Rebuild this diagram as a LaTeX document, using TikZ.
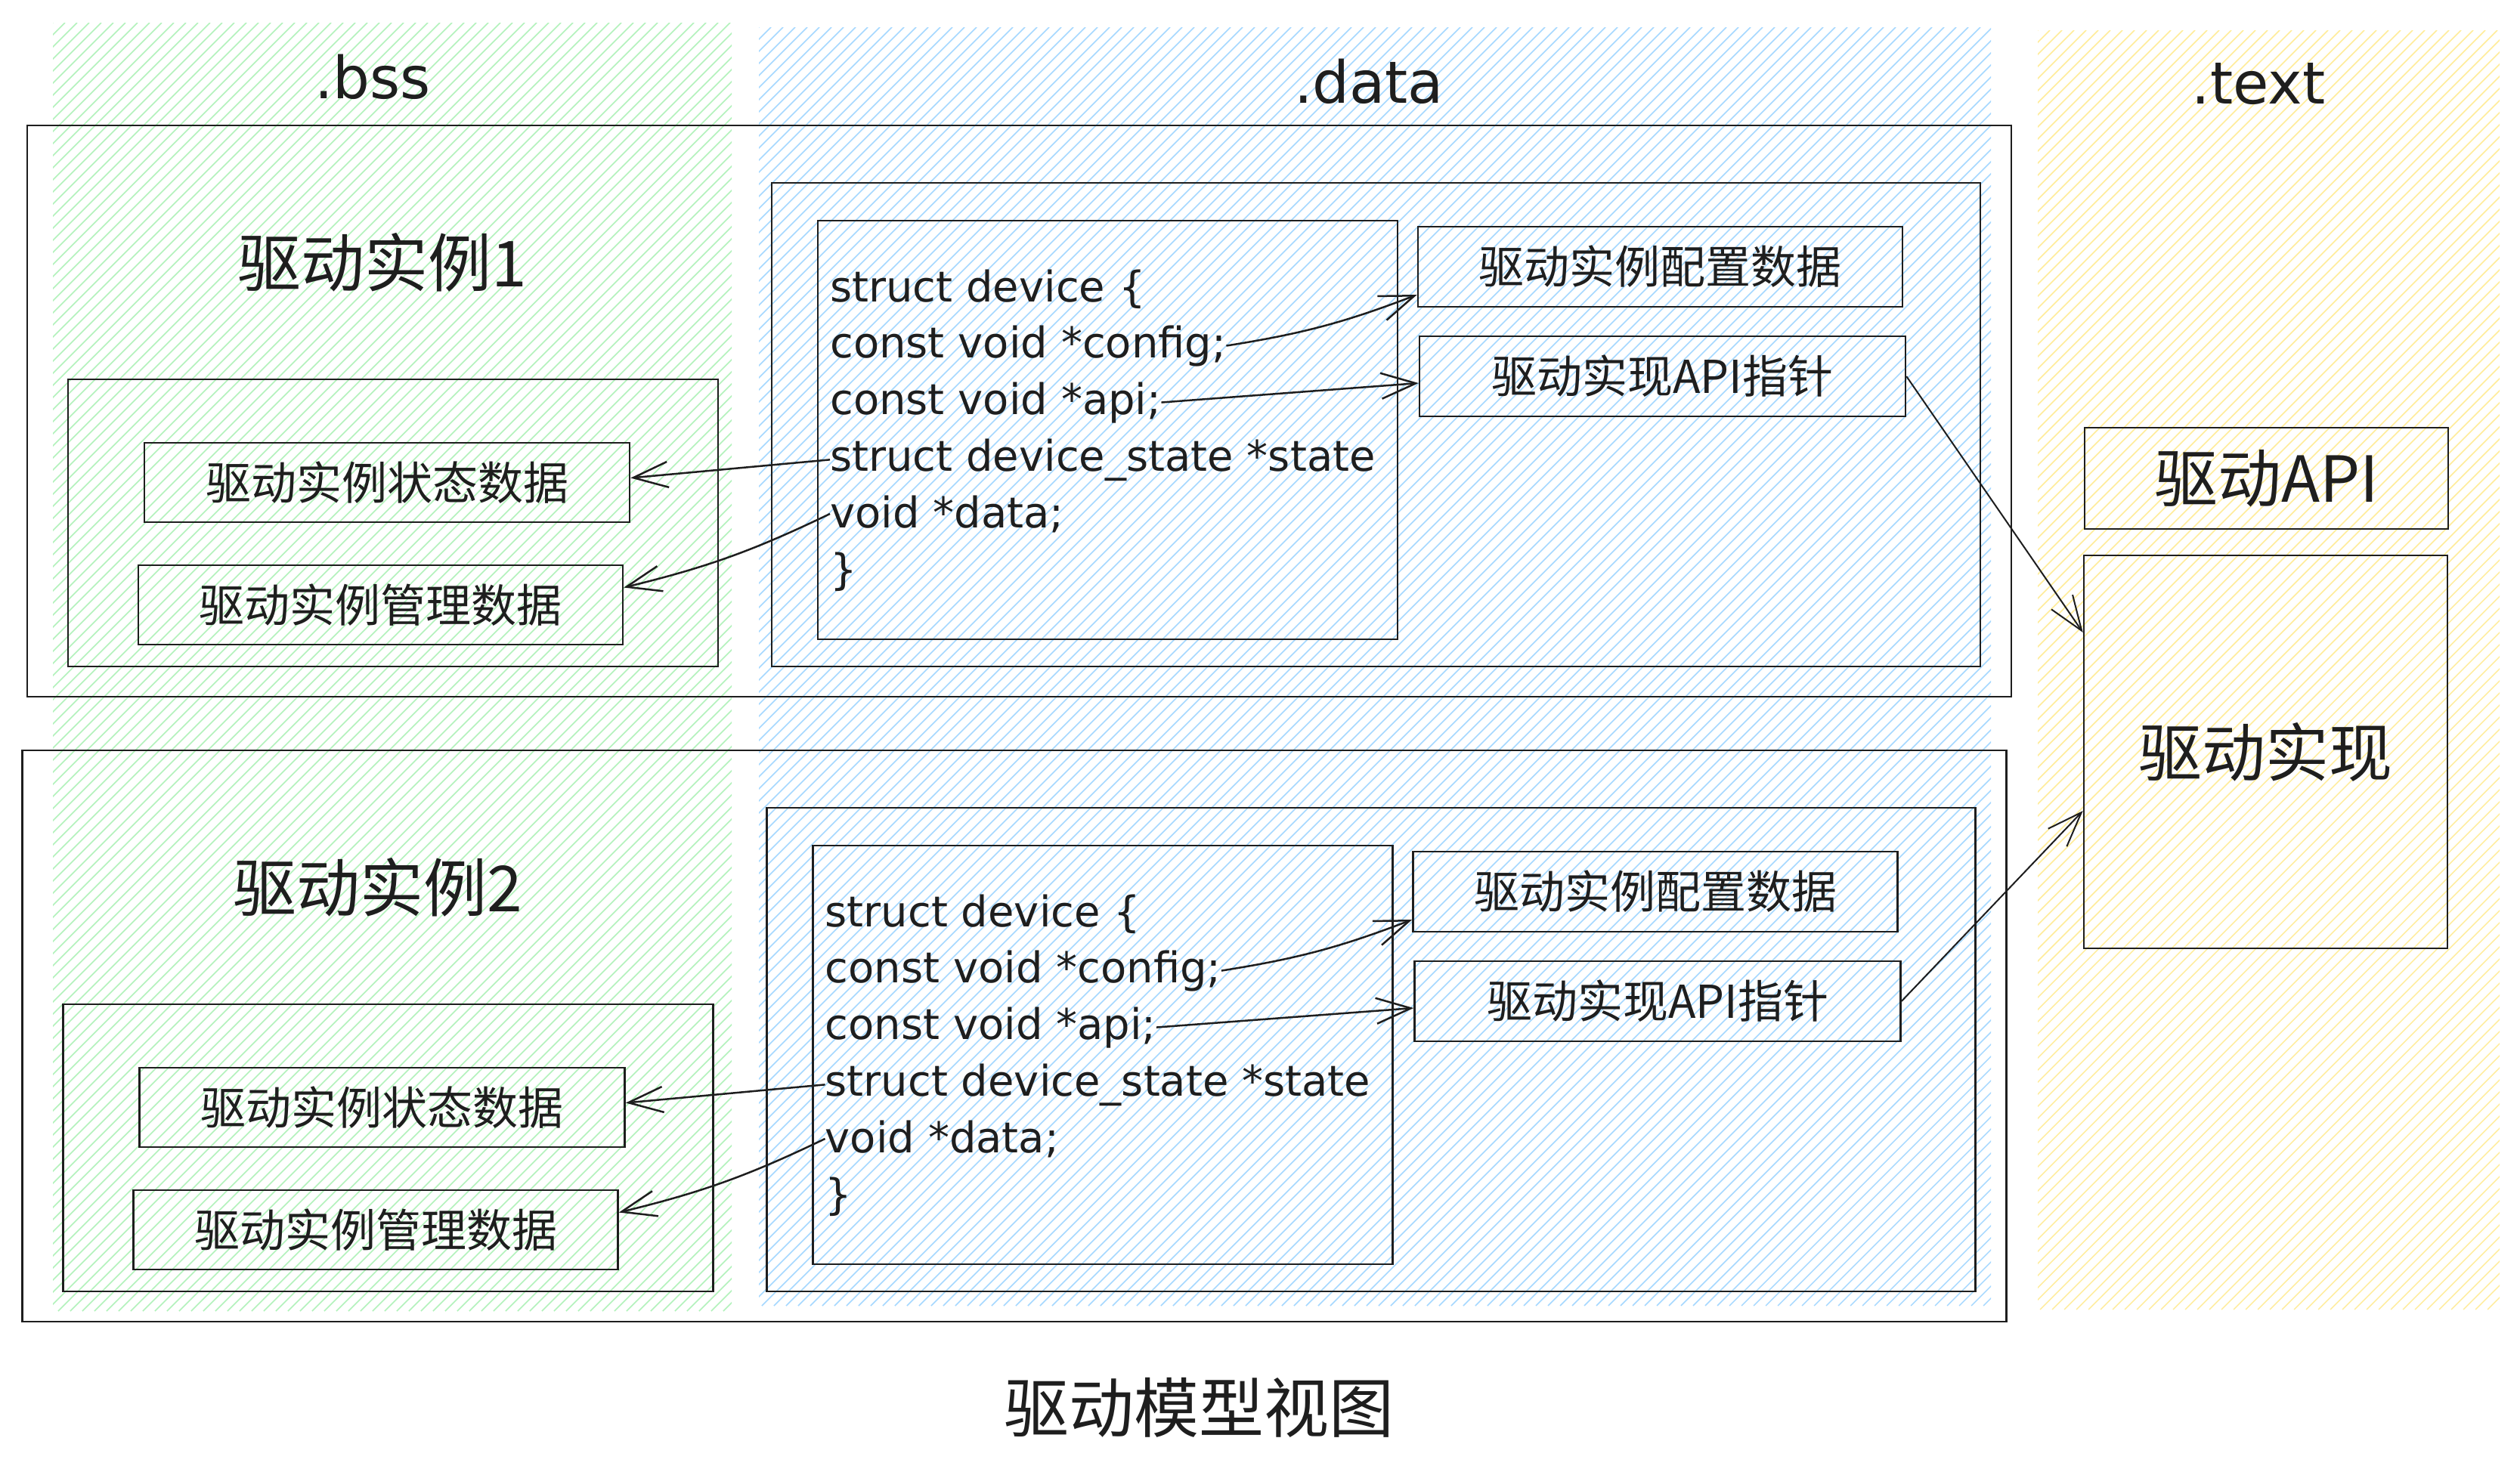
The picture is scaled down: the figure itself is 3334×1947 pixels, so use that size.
\documentclass[tikz,border=0pt]{standalone}
\usepackage{fontspec}
\setmainfont{DejaVu Sans}
\newfontfamily\cjk{Noto Sans CJK SC}
\usetikzlibrary{arrows.meta}
\definecolor{inkc}{HTML}{1E1E1E}
\definecolor{hG}{HTML}{B2F2BB}
\definecolor{hB}{HTML}{A5D8FF}
\definecolor{hY}{HTML}{FFEC99}

\newcommand{\hatchregion}[5]{%
  \begin{scope}
    \clip (#2,#3) rectangle (#4,#5);
    \pgfmathsetmacro{\hatchH}{#5-#3}
    \pgfmathsetmacro{\hatchW}{#4-#2+#5-#3}
    \foreach \k in {0,16,...,\hatchW} {
      \draw[#1,line width=1.5pt] ({#2-\hatchH+\k},#5) -- ++(\hatchH,-\hatchH);
    }
  \end{scope}}

\newcommand{\drvinst}[3]{%
  \begin{scope}[shift={(#2,#3)}]
    \node[box, minimum width=2625pt, minimum height=756pt] (outer#1) at (1348.5,544) {};
    \node[box, minimum width=860pt, minimum height=380pt] (bss#1) at (520,692) {};
    \node[box, lbl, minimum width=642pt, minimum height=105pt] (state#1) at (512,638.5) {驱动实例状态数据};
    \node[box, lbl, minimum width=641pt, minimum height=105pt] (mgmt#1) at (503.5,800.5) {驱动实例管理数据};
    \node[box, minimum width=1599pt, minimum height=640pt] (data#1) at (1820.5,562) {};
    \node[box, minimum width=767pt, minimum height=554pt] (struct#1) at (1465.5,569) {};
    \node[box, lbl, minimum width=641pt, minimum height=106pt] (cfg#1) at (2196.5,353) {驱动实例配置数据};
    \node[box, lbl, minimum width=643pt, minimum height=106pt] (api#1) at (2199.5,498) {驱动实现API指针};
    \node[big] (inst#1) at (506,347) {驱动实例#1};
    \node[codeline] (sdl#1) at (1098,399) {struct device \{};
    \node[codeline] (cfgl#1) at (1098,473) {const void *config;};
    \node[codeline] (apil#1) at (1098,548) {const void *api;};
    \node[codeline] (stl#1) at (1098,623) {struct device\_state *state};
    \node[codeline] (datal#1) at (1098,698) {void *data;};
    \node[codeline] (endl#1) at (1098,773) {\}};
    \draw[arr] (cfgl#1.east) to[bend right=6] ([yshift=-37pt]cfg#1.west);
    \draw[arr] (apil#1.east) -- ([yshift=-9pt]api#1.west);
    \draw[arr] (stl#1.west) -- ([yshift=6pt]state#1.east);
    \draw[arr] (datal#1.west) to[bend left=6] ([yshift=23pt]mgmt#1.east);
  \end{scope}}

\begin{document}
\begin{tikzpicture}[x=1pt,y=-1pt,
  box/.style={draw=inkc,line width=2.5pt,rectangle,inner sep=0pt,text=inkc},
  codeline/.style={anchor=base west,inner sep=0pt,text=inkc,font=\fontsize{56}{70}\selectfont},
  lbl/.style={font=\cjk\fontsize{60}{72}\selectfont},
  big/.style={inner sep=0pt,text=inkc,font=\cjk\fontsize{84}{100}\selectfont},
  sect/.style={anchor=base,inner sep=0pt,text=inkc,font=\fontsize{77}{90}\selectfont},
  arr/.style={draw=inkc,line width=2.5pt,-{Straight Barb[length=46pt,width=34pt]}},
  thinarr/.style={draw=inkc,line width=2pt,-{Straight Barb[length=46pt,width=34pt]}}]
  \useasboundingbox (0,0) rectangle (3334,1947);
  \fill[white] (0,0) rectangle (3334,1947);

  % section backgrounds
  \hatchregion{hG}{70}{30}{968}{1735}
  \hatchregion{hB}{1004}{36}{2634}{1728}
  \hatchregion{hY}{2696}{40}{3307}{1733}

  \node[sect] (bsslbl) at (493,130) {.bss};
  \node[sect] (datalbl) at (1811,136) {.data};
  \node[sect] (textlbl) at (2988,137) {.text};

  \drvinst{1}{0}{0}
  \drvinst{2}{-6.5}{827}

  \node[box, big, minimum width=481pt, minimum height=134pt] (drvapi) at (2998.5,633) {驱动API};
  \node[box, big, minimum width=481pt, minimum height=520pt] (impl) at (2997.5,995) {驱动实现};

  \draw[thinarr] (api1.east) -- ([yshift=158pt]impl.west);
  \draw[thinarr] (api2.east) -- ([yshift=-78pt]impl.west);

  \node[big, font=\cjk\fontsize{86}{100}\selectfont] (title) at (1586,1863) {驱动模型视图};
\end{tikzpicture}
\end{document}
